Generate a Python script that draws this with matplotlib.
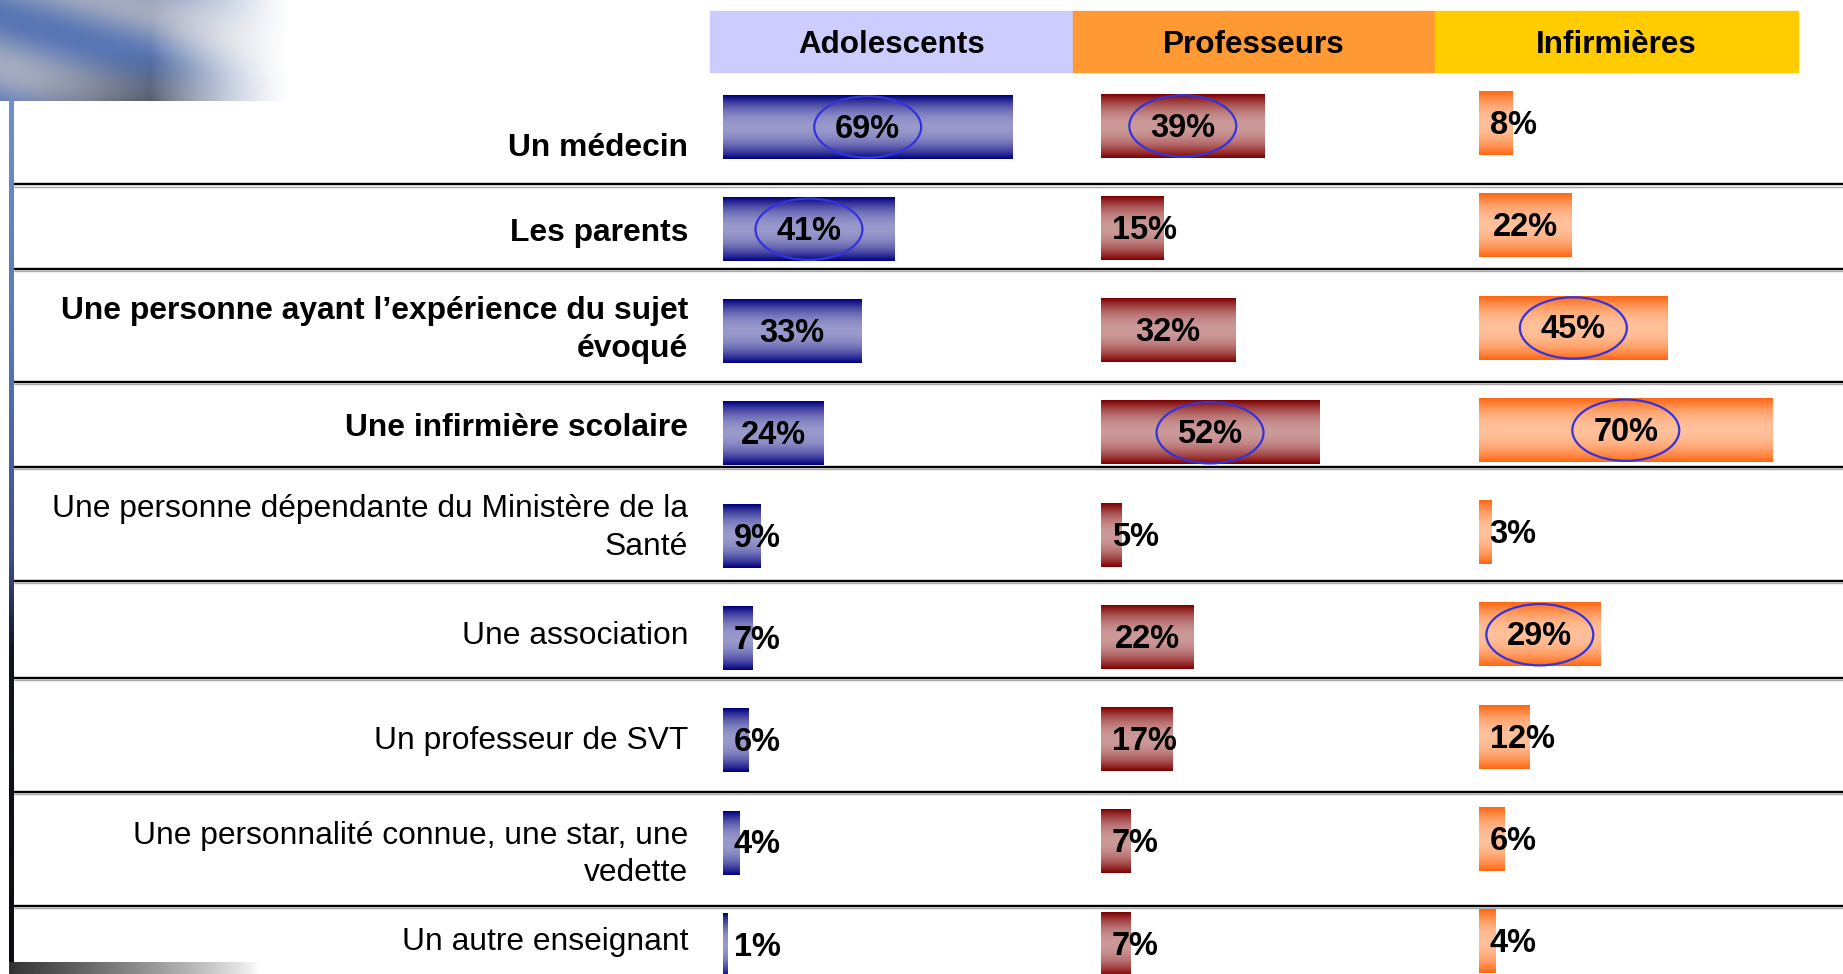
import numpy as np
import matplotlib
matplotlib.use('Agg')
import matplotlib.pyplot as plt
from matplotlib.patches import Rectangle, Ellipse

plt.rcParams['font.family'] = ['Liberation Sans', 'DejaVu Sans']

# ---------------- data ----------------
categories = ["Un médecin",
              "Les parents",
              "Une personne ayant l’expérience du sujet\névoqué",
              "Une infirmière scolaire",
              "Une personne dépendante du Ministère de la\nSanté",
              "Une association",
              "Un professeur de SVT",
              "Une personnalité connue, une star, une\nvedette",
              "Un autre enseignant"]
bold_rows = [True, True, True, True, False, False, False, False, False]

groups = ["Adolescents", "Professeurs", "Infirmières"]
adolescents = [69, 41, 33, 24, 9, 7, 6, 4, 1]
professeurs = [39, 15, 32, 52, 5, 22, 17, 7, 7]
infirmieres = [8, 22, 45, 70, 3, 29, 12, 6, 4]

# rows whose value is circled in blue
circled_ado = [0, 1]
circled_prof = [0, 3]
circled_inf = [2, 3, 5]

# ---------------- layout (pixels of the 1843x974 figure) ----------------
W, H = 1843, 974
ROW0_PX, ROW_PX = 127.0, 102.26          # centre of first bar row, row pitch
PX_PER_PCT = 4.194
ylim_rows = ((H - ROW0_PX) / ROW_PX, (0 - ROW0_PX) / ROW_PX)
col_start = [723, 1101, 1479]
col_dy = [0.0, -0.01, -0.035]
header_x = [710, 1073, 1435, 1798]
header_y = (11, 71.5)
header_col = ['#ccccff', '#ff9933', '#ffcc00']
dark_col = [(0, 0, 128), (128, 0, 0), (255, 102, 17)]
light_col = [(153, 153, 204), (204, 153, 153), (255, 192, 154)]
sep_rows = [0.562, 1.391, 2.494, 3.321, 4.436, 5.390, 6.505, 7.620]
label_dy = [0.17, 0.0, -0.05, -0.09, -0.11, -0.06, -0.03, 0.08, -0.07]
BAR_H = 0.62
rows = np.arange(len(categories))

fig = plt.figure(figsize=(W / 100, H / 100), dpi=100)
fig.patch.set_facecolor('white')

# pixel axes for decoration and header
ax_px = fig.add_axes([0, 0, 1, 1])
ax_px.set_xlim(0, W)
ax_px.set_ylim(H, 0)
ax_px.axis('off')

# top-left swoosh picture (decoration only)
hh, ww = 101, 290
yy, xx = np.mgrid[0:hh, 0:ww].astype(float)
band = 0.5 + 0.5 * np.sin((yy - 0.30 * xx) / 16.0 + 0.6)
blue = np.array([88, 118, 180]) / 255
grey = np.array([165, 172, 192]) / 255
dark = np.array([70, 74, 88]) / 255
rgb = blue[None, None, :] * band[..., None] + grey[None, None, :] * (1 - band[..., None])
shade = np.clip((yy - 50) / 50, 0, 1) * np.clip(1 - np.abs(xx - 150) / 130, 0, 1)
rgb = rgb * (1 - 0.8 * shade[..., None]) + dark[None, None, :] * 0.8 * shade[..., None]
alpha = np.clip(1 - (xx - 150) / 140, 0, 1) ** 1.3
ax_px.imshow(np.dstack([rgb, alpha]), extent=[0, ww, hh, 0], aspect='auto',
             interpolation='bilinear', zorder=0)

# left vertical strip
ys = np.linspace(100, H, 200)
stops_y = [100, 350, 560, 650, H]
stops_c = np.array([[110, 145, 200], [88, 118, 182], [60, 78, 138], [18, 20, 32], [12, 12, 20]]) / 255
strip = np.stack([np.interp(ys, stops_y, stops_c[:, k]) for k in range(3)], axis=-1)
ax_px.imshow(strip[:, None, :], extent=[9, 14, H, 100], aspect='auto', zorder=1)

# bottom-left grey band
gx = np.linspace(0, 1, 200)
gband = np.dstack([np.full((1, 200), 0.2), np.full((1, 200), 0.2), np.full((1, 200), 0.2),
                   np.clip(1 - gx, 0, 1)[None, :] ** 0.8])
ax_px.imshow(gband, extent=[9, 260, H, 962], aspect='auto', zorder=1)

# header cells
for i, g in enumerate(groups):
    ax_px.add_patch(Rectangle((header_x[i], header_y[0]), header_x[i + 1] - header_x[i],
                              header_y[1] - header_y[0], color=header_col[i], zorder=2))
    ax_px.text((header_x[i] + header_x[i + 1]) / 2, sum(header_y) / 2 + 4, g,
               ha='center', va='center', fontsize=22.6, fontweight='bold', zorder=3)

# row axes: labels and separators
ax_rows = fig.add_axes([0, 0, 1, 1])
ax_rows.set_xlim(0, W)
ax_rows.set_ylim(*ylim_rows)
ax_rows.axis('off')
ax_rows.hlines([s + 0.022 for s in sep_rows], 14, W, colors='#a8a8a8', lw=1.0)
ax_rows.hlines(sep_rows, 14, W, colors='black', lw=1.7)
for i, cat in enumerate(categories):
    ax_rows.text(688, i + label_dy[i] + 0.035, cat, ha='right', va='center',
                 multialignment='right', fontsize=22.9,
                 fontweight='bold' if bold_rows[i] else 'normal', linespacing=1.34)

# bar columns
series = [adolescents, professeurs, infirmieres]
circled = [circled_ado, circled_prof, circled_inf]
ax_w = 362
t = np.linspace(0, 1, 80)
wgt = np.abs(2 * t - 1) ** 2
for k, vals in enumerate(series):
    ax = fig.add_axes([col_start[k] / W, 0, ax_w / W, 1])
    xmax = ax_w / PX_PER_PCT
    d = np.array(dark_col[k]) / 255
    l = np.array(light_col[k]) / 255
    grad = (l[None, :] * (1 - wgt[:, None]) + d[None, :] * wgt[:, None])[:, None, :]
    y = rows + col_dy[k]
    bars = ax.barh(y, vals, height=BAR_H, color='none', edgecolor='none')
    for b in bars:
        x0, y0, bw, bh = b.get_x(), b.get_y(), b.get_width(), b.get_height()
        ax.imshow(grad, extent=[x0, x0 + bw, y0 + bh, y0], aspect='auto',
                  interpolation='bilinear', zorder=2)
    for i, v in enumerate(vals):
        tw = 15.0 if v >= 10 else 10.7
        xc = max(v / 2, 2.8 + tw / 2)
        ax.text(xc, y[i] + 0.02, f"{v}%", ha='center', va='center', fontsize=23.5,
                fontweight='bold', zorder=4)
        if i in circled[k]:
            ax.add_patch(Ellipse((xc, y[i]), width=25.5, height=0.6, fill=False,
                                 edgecolor='#3333dd', lw=1.6, zorder=5, clip_on=False))
    ax.set_xlim(0, xmax)
    ax.set_ylim(*ylim_rows)
    ax.axis('off')

fig.savefig('out.png', dpi=100)
